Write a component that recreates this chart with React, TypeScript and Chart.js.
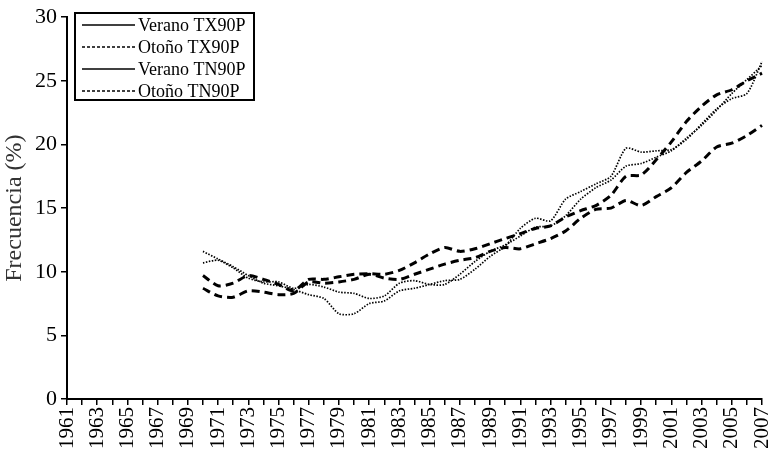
import React, { useEffect, useRef } from "react";
import { Chart, registerables } from "chart.js";

Chart.register(...registerables);

const years: string[] = [
  "1961", "1962", "1963", "1964", "1965", "1966", "1967", "1968", "1969", "1970",
  "1971", "1972", "1973", "1974", "1975", "1976", "1977", "1978", "1979", "1980",
  "1981", "1982", "1983", "1984", "1985", "1986", "1987", "1988", "1989", "1990",
  "1991", "1992", "1993", "1994", "1995", "1996", "1997", "1998", "1999", "2000",
  "2001", "2002", "2003", "2004", "2005", "2006", "2007",
];

const N = null;

// Verano TX90P (1961-2007)
const veranoTX: (number | null)[] = [
  N, N, N, N, N, N, N, N, N,
  11.6, 11.0, 10.4, 9.7, 9.1, 8.9, 8.6, 8.2, 7.9, 6.7,
  6.7, 7.5, 7.7, 8.5, 8.7, 9.0, 9.3, 9.4, 10.2, 11.2,
  12.0, 13.4, 14.2, 14.0, 15.7, 16.3, 16.9, 17.5, 19.7, 19.4,
  19.5, 19.6, 20.4, 21.6, 22.8, 23.6, 24.0, 26.5,
];

// Otoño TX90P
const otonoTX: (number | null)[] = [
  N, N, N, N, N, N, N, N, N,
  9.7, 8.9, 9.1, 9.7, 9.4, 9.0, 8.5, 9.4, 9.4, 9.6,
  9.8, 9.85, 9.8, 10.1, 10.7, 11.4, 11.9, 11.6, 11.8, 12.2,
  12.6, 13.0, 13.4, 13.6, 14.3, 14.8, 15.2, 16.0, 17.5, 17.6,
  18.8, 20.2, 21.8, 23.0, 23.9, 24.3, 25.0, 25.6,
];

// Verano TN90P
const veranoTN: (number | null)[] = [
  N, N, N, N, N, N, N, N, N,
  10.7, 10.9, 10.3, 9.5, 9.2, 9.2, 8.7, 9.0, 8.8, 8.4,
  8.3, 7.9, 8.1, 9.1, 9.3, 9.0, 9.0, 9.8, 10.8, 11.6,
  12.1, 12.8, 13.5, 13.6, 14.4, 15.7, 16.6, 17.2, 18.3, 18.5,
  19.0, 19.5, 20.5, 21.5, 22.7, 24.0, 25.1, 26.2,
];

// Otoño TN90P
const otonoTN: (number | null)[] = [
  N, N, N, N, N, N, N, N, N,
  8.7, 8.1, 8.0, 8.5, 8.4, 8.2, 8.3, 9.2, 9.1, 9.2,
  9.4, 9.8, 9.5, 9.4, 9.8, 10.2, 10.6, 10.9, 11.1, 11.6,
  11.9, 11.8, 12.2, 12.6, 13.2, 14.2, 14.9, 15.0, 15.6, 15.2,
  15.9, 16.6, 17.8, 18.7, 19.8, 20.1, 20.7, 21.5,
];

const seriesNames: string[] = ["Verano TX90P", "Otoño TX90P", "Verano TN90P", "Otoño TN90P"];
const yTicks: number[] = [0, 5, 10, 15, 20, 25, 30];

const SERIF = '"Liberation Serif", "Times New Roman", serif';

const legendPlugin = {
  id: "boxLegend",
  afterDraw(chart: any) {
    const ctx = chart.ctx;
    const x0 = chart.chartArea.left + 8;
    const y0 = 13;
    const w = 179;
    const h = 87;
    ctx.save();
    ctx.fillStyle = "#fff";
    ctx.fillRect(x0, y0, w, h);
    ctx.strokeStyle = "#000";
    ctx.lineWidth = 2;
    ctx.strokeRect(x0, y0, w, h);
    ctx.font = `18px ${SERIF}`;
    ctx.textBaseline = "middle";
    ctx.fillStyle = "#000";
    chart.data.datasets.forEach((ds: any, i: number) => {
      const y = y0 + 12 + i * 22;
      ctx.beginPath();
      ctx.lineWidth = 1.3;
      ctx.setLineDash(i % 2 === 0 ? [] : [3, 2]);
      ctx.moveTo(x0 + 7, y);
      ctx.lineTo(x0 + 60, y);
      ctx.stroke();
      ctx.setLineDash([]);
      ctx.fillText(ds.label, x0 + 63, y + 1);
    });
    ctx.restore();
  },
};

export default function App() {
  const ref = useRef<HTMLCanvasElement | null>(null);

  useEffect(() => {
    if (!ref.current) return;
    const dotted = { borderColor: "#000", borderWidth: 1.7, borderDash: [1.5, 1.5] };
    const dashed = { borderColor: "#000", borderWidth: 3, borderDash: [8, 5] };
    const chart = new Chart(ref.current, {
      type: "line",
      data: {
        labels: years,
        datasets: [
          { label: seriesNames[0], data: veranoTX, ...dotted },
          { label: seriesNames[1], data: otonoTX, ...dashed },
          { label: seriesNames[2], data: veranoTN, ...dotted },
          { label: seriesNames[3], data: otonoTN, ...dashed },
        ].map((d) => ({ ...d, pointRadius: 0, fill: false, tension: 0.25 })),
      },
      options: {
        animation: false,
        responsive: false,
        devicePixelRatio: 1,
        layout: { padding: { top: 12, right: 10, left: 0, bottom: 0 } },
        plugins: {
          legend: { display: false },
          tooltip: { enabled: false },
        },
        scales: {
          x: {
            type: "category",
            offset: false,
            grid: {
              display: true,
              drawOnChartArea: false,
              drawTicks: true,
              tickLength: 6,
              color: "#000",
              lineWidth: 1.5,
              offset: false,
            },
            border: { display: true, color: "#000", width: 2 },
            ticks: {
              autoSkip: false,
              minRotation: 90,
              maxRotation: 90,
              padding: 2,
              color: "#000",
              font: { family: SERIF, size: 21 },
              callback: (_v: any, idx: number) => (idx % 2 === 0 ? years[idx] : ""),
            },
            afterFit: (scale: any) => {
              scale.height = 60;
              scale.paddingRight = 0;
              scale.paddingLeft = 0;
            },
          },
          y: {
            min: 0,
            max: 30,
            afterBuildTicks: (scale: any) => {
              scale.ticks = yTicks.map((v) => ({ value: v }));
            },
            grid: {
              display: true,
              drawOnChartArea: false,
              drawTicks: true,
              tickLength: 6,
              color: "#000",
              lineWidth: 1.5,
            },
            border: { display: true, color: "#000", width: 2 },
            ticks: {
              padding: 4,
              color: "#000",
              font: { family: SERIF, size: 22 },
            },
            title: {
              display: true,
              text: "Frecuencia (%)",
              color: "#333",
              font: { family: SERIF, size: 24 },
              padding: 0,
            },
            afterFit: (scale: any) => {
              scale.width = 67;
            },
          },
        },
      },
      plugins: [legendPlugin],
    });
    return () => chart.destroy();
  }, []);

  return (
    <div style={{ position: "fixed", left: 0, top: 0, width: 772, height: 459, background: "#fff" }}>
      <canvas ref={ref} width={772} height={459} style={{ width: 772, height: 459 }} />
    </div>
  );
}
